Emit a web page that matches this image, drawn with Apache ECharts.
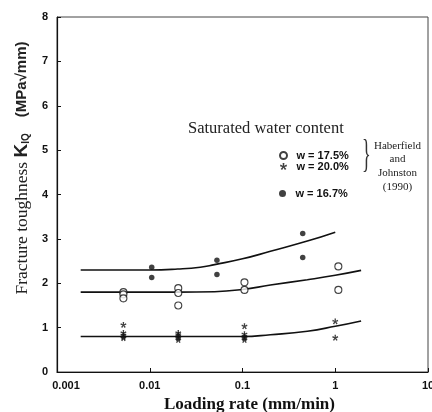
<!DOCTYPE html>
<html><head><meta charset="utf-8">
<script src="https://cdn.jsdelivr.net/npm/echarts@6/dist/echarts.min.js"></script>
<style>html,body{margin:0;padding:0;background:#fff}#c{width:432px;height:412px}</style>
</head><body><div id="c"></div>
<script>
// Data
const xTicks = [0.001, 0.01, 0.1, 1, 10];
const yTicks = [0, 1, 2, 3, 4, 5, 6, 7, 8];

// w = 17.5% (open circles, Haberfield & Johnston 1990)
const w175Rate = [0.0052, 0.0052, 0.0052, 0.0203, 0.0203, 0.0203, 0.105, 0.105, 1.08, 1.08];
const w175K    = [1.80, 1.75, 1.66, 1.89, 1.78, 1.50, 2.02, 1.85, 2.38, 1.85];

// w = 20.0% (asterisks, Haberfield & Johnston 1990)
const w200Rate = [0.0052, 0.0052, 0.0052, 0.0052, 0.0052, 0.0203, 0.0203, 0.0203, 0.0203, 0.0203, 0.105, 0.105, 0.105, 0.105, 0.105, 1.0, 1.0];
const w200K    = [1.06, 0.88, 0.83, 0.79, 0.76, 0.88, 0.84, 0.80, 0.76, 0.72, 1.03, 0.85, 0.80, 0.76, 0.72, 1.14, 0.77];

// w = 16.7% (filled dots)
const w167Rate = [0.0105, 0.0105, 0.053, 0.053, 0.446, 0.446];
const w167K    = [2.36, 2.13, 2.52, 2.20, 3.12, 2.58];

// Fitted curves
const upperRate = [0.0018, 0.005, 0.01, 0.02, 0.035, 0.05, 0.1, 0.2, 0.5, 1.0];
const upperK    = [2.30, 2.30, 2.30, 2.32, 2.36, 2.42, 2.55, 2.72, 2.95, 3.15];
const midRate = [0.0018, 0.005, 0.02, 0.05, 0.1, 0.2, 0.5, 1.0, 1.9];
const midK    = [1.80, 1.80, 1.80, 1.81, 1.86, 1.96, 2.08, 2.18, 2.29];
const lowRate = [0.0018, 0.005, 0.02, 0.1, 0.2, 0.5, 1.0, 1.9];
const lowK    = [0.80, 0.80, 0.80, 0.80, 0.84, 0.92, 1.03, 1.15];

const pairs = (xs, ys) => xs.map((x, i) => [x, ys[i]]);
const asterisk = 'path://M4,0 L6,0 L5.7,3 L8.4,1.7 L9,3.6 L6.2,4.4 L8.2,6.7 L6.6,7.9 L5,5.4 L3.4,7.9 L1.8,6.7 L3.8,4.4 L1,3.6 L1.6,1.7 L4.3,3 Z';

const chart = echarts.init(document.getElementById('c'), null, {renderer: 'canvas'});
const tickFont = {fontFamily: 'Liberation Sans, Arial, sans-serif', fontWeight: 'bold', fontSize: 11, color: '#111'};
const legendText = {fontFamily: 'Liberation Sans, Arial, sans-serif', fontWeight: 'bold', fontSize: 11, color: '#111', padding: [0, 0, 0, 4]};

chart.setOption({
  backgroundColor: '#fff',
  animation: false,
  grid: {left: 57, right: 4, top: 17, bottom: 40, show: true, borderColor: '#444', borderWidth: 1,
         containLabel: false, outerBoundsMode: 'none'},
  xAxis: {
    type: 'log', logBase: 10, min: xTicks[0], max: xTicks[xTicks.length - 1],
    axisLine: {lineStyle: {color: '#111', width: 1.2}},
    axisTick: {inside: true, length: 4, lineStyle: {color: '#111'}},
    minorTick: {show: false},
    splitLine: {show: false},
    axisLabel: Object.assign({
      margin: 8, hideOverlap: false, showMaxLabel: true,
      formatter: v => {
        const s = String(+v.toPrecision(3));
        return v <= xTicks[0] * 1.0001 ? '{first|' + s + '}' : s;
      },
      rich: {first: {fontFamily: 'Liberation Sans, Arial, sans-serif', fontWeight: 'bold', fontSize: 11, color: '#111', padding: [0, 0, 0, 18]}}
    }, tickFont),
    name: 'Loading rate (mm/min)', nameLocation: 'middle', nameGap: 18,
    nameTextStyle: {fontFamily: 'Liberation Serif, Times New Roman, serif', fontWeight: 'bold', fontSize: 17, color: '#111', padding: [0, 0, 0, 14]}
  },
  yAxis: {
    type: 'value', min: 0, max: 8, interval: 1,
    axisLine: {show: true, lineStyle: {color: '#111', width: 1.2}},
    axisTick: {show: true, inside: true, length: 4, lineStyle: {color: '#111'}},
    splitLine: {show: false},
    axisLabel: Object.assign({margin: 9}, tickFont)
  },
  legend: [
    {orient: 'vertical', left: 274, top: 145, itemGap: 0, itemWidth: 8, itemHeight: 7,
     textStyle: legendText, data: ['w = 17.5%', 'w = 20.0%']},
    {orient: 'vertical', left: 274, top: 183, itemWidth: 8, itemHeight: 7,
     textStyle: legendText, data: ['w = 16.7%']}
  ],
  graphic: [
    {type: 'text', left: 188, top: 120, style: {text: 'Saturated water content', font: '16.5px "Liberation Serif", serif', fill: '#222'}},
    {type: 'text', left: 374, top: 139, style: {text: 'Haberfield\nand\nJohnston\n(1990)', font: '11px "Liberation Serif", serif', fill: '#222', textAlign: 'center', lineHeight: 13.7}},
    {type: 'text', x: 362, y: 137, scaleX: 0.7, scaleY: 1.5, style: {text: '}', font: '26px "Liberation Serif", serif', fill: '#333'}},
    {type: 'text', x: 22, y: 168, rotation: Math.PI / 2,
     style: {
       text: '{a|Fracture toughness }{b|K}{c|IQ}{d|(MPa√mm)}',
       textAlign: 'center', textVerticalAlign: 'middle',
       rich: {
         a: {font: '17.5px "Liberation Serif", serif', fill: '#222'},
         b: {font: 'bold 19px "Liberation Sans", sans-serif', fill: '#222'},
         c: {font: 'bold 10px "Liberation Sans", sans-serif', fill: '#222', verticalAlign: 'bottom', padding: [8, 0, 0, 0]},
         d: {font: 'bold 15px "Liberation Sans", sans-serif', fill: '#222', padding: [0, 0, 0, 16]}
       }
     }}
  ],
  series: [
    {name: 'w = 17.5%', type: 'scatter', data: pairs(w175Rate, w175K), symbol: 'circle', symbolSize: 7,
     itemStyle: {color: '#fff', borderColor: '#111', borderWidth: 1.1}, z: 5},
    {name: 'w = 20.0%', type: 'scatter', data: pairs(w200Rate, w200K), symbol: asterisk, symbolSize: 6,
     itemStyle: {color: '#111'}, z: 5},
    {name: 'w = 16.7%', type: 'scatter', data: pairs(w167Rate, w167K), symbol: 'circle', symbolSize: 5.5,
     itemStyle: {color: '#111'}, z: 5},
    {type: 'line', data: pairs(upperRate, upperK), smooth: true, showSymbol: false, symbol: 'none',
     lineStyle: {color: '#111', width: 1.6}, silent: true},
    {type: 'line', data: pairs(midRate, midK), smooth: true, showSymbol: false, symbol: 'none',
     lineStyle: {color: '#111', width: 1.6}, silent: true},
    {type: 'line', data: pairs(lowRate, lowK), smooth: true, showSymbol: false, symbol: 'none',
     lineStyle: {color: '#111', width: 1.6}, silent: true}
  ]
});
</script></body></html>
